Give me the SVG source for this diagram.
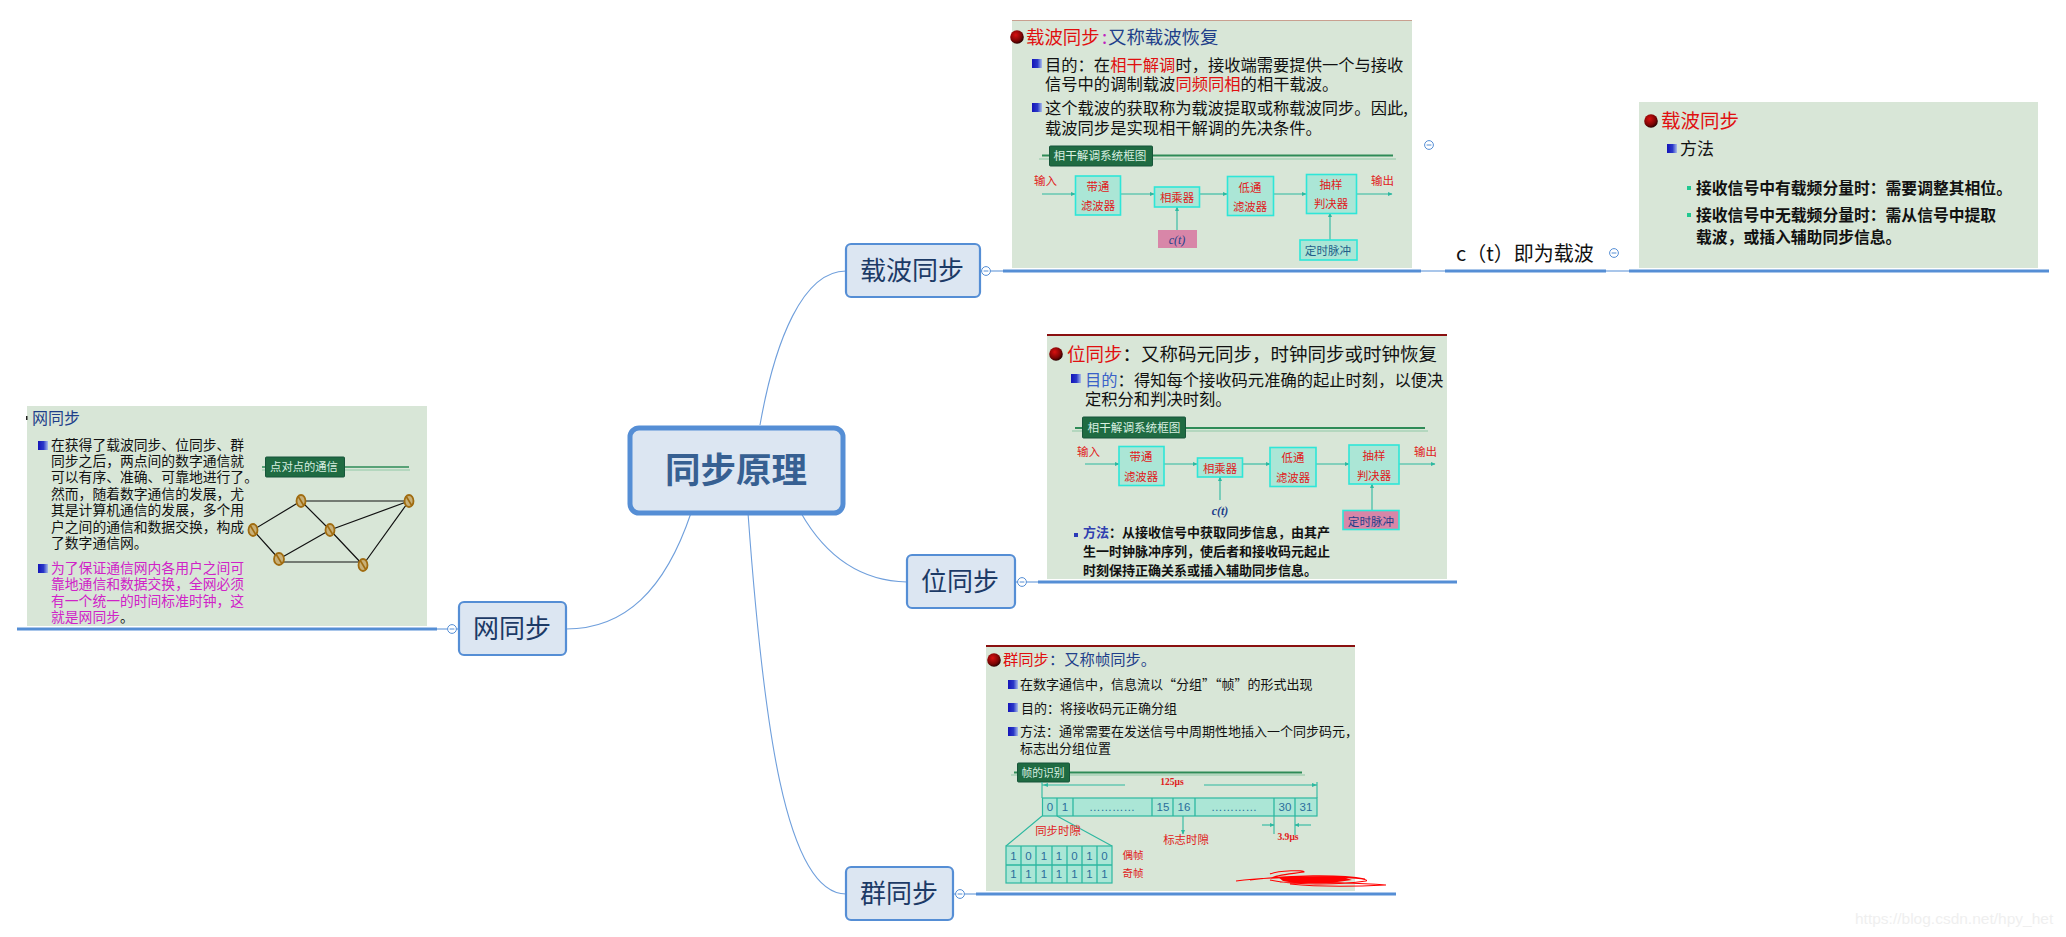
<svg xmlns="http://www.w3.org/2000/svg" width="2066" height="937" viewBox="0 0 2066 937">
<style>
text{font-family:"Noto Sans CJK SC","Noto Sans",sans-serif;fill:#111}
.panel{fill:#d8e6d7}
.topic{fill:#dce6f2;stroke:#558ed5;stroke-width:2.2}
.ttxt{font-size:26px;fill:#1c3a66;text-anchor:middle}
.curve{fill:none;stroke:#6f9fdc;stroke-width:1.1}
.thin{fill:none;stroke:#558ed5;stroke-width:1.2}
.thick{fill:none;stroke:#558ed5;stroke-width:3.2}
.col{fill:#fff;stroke:#558ed5;stroke-width:1}
.title{font-size:18.4px;fill:#1f3f8a}
.red{fill:#e01010}
.body{font-size:16.3px}
.blk{fill:#abe6d6;stroke:#2ee6d8;stroke-width:1.6}
.btx{font-size:11.4px;fill:#e02020;text-anchor:middle}
.io{font-size:11.5px;fill:#e02020}
.sig{fill:none;stroke:#2db8a0;stroke-width:1.1}
.sigm{fill:none;stroke:#2db8a0;stroke-width:1.1;marker-end:url(#ar)}
.tag{fill:#1f6b42;stroke:#17553a;stroke-width:1}
.tagt{font-size:11.6px;fill:#d8efe0;text-anchor:middle}
.hl1{stroke:#2e8b57;stroke-width:2.2;fill:none}
.hl2{stroke:#8fc8a6;stroke-width:1;fill:none}
.cell{fill:#abe6d6;stroke:#2db8a0;stroke-width:1.2}
.ctx{font-size:11.5px;fill:#2a6e9c;text-anchor:middle;font-family:"Liberation Sans",sans-serif}
.ser{font-family:"Liberation Serif",serif;font-weight:700;fill:#e02020;font-size:9.6px;text-anchor:middle}
.s13{font-size:13px}
.m{font-size:13.8px}
.mg{fill:#d022c8}
.b{font-weight:700}
.edge{stroke:#111;stroke-width:1.2;fill:none}
.nd{fill:#c8b078;stroke:#a06c10;stroke-width:1.8}
.sl{stroke:#a06c10;stroke-width:1.6}
</style>
<defs>
<radialGradient id="ballg" cx="0.4" cy="0.35" r="0.7"><stop offset="0" stop-color="#d81010"/><stop offset="0.65" stop-color="#7a0404"/><stop offset="1" stop-color="#180000"/></radialGradient>
<linearGradient id="sqg" x1="0" x2="1"><stop offset="0" stop-color="#1414b8"/><stop offset="0.55" stop-color="#2a38c8"/><stop offset="1" stop-color="#a8bcec"/></linearGradient>
<circle id="ball" r="6.8" fill="url(#ballg)"/>
<rect id="sq" width="10" height="9" fill="url(#sqg)"/>
<marker id="ar" markerWidth="6" markerHeight="6" refX="4" refY="2.5" orient="auto" markerUnits="userSpaceOnUse"><path d="M0 0.5L4.5 2.5L0 4.5Z" fill="#2db8a0"/></marker>
<g id="cc"><circle class="col" r="4.4"/><path d="M-2.4 0H2.4" stroke="#558ed5" stroke-width="1"/></g>
</defs>

<g id="connectors">
<path class="curve" d="M760 425C775 340 803 271 846 271"/>
<path class="curve" d="M801 513C825 555 860 581 907 582"/>
<path class="curve" d="M748 513C763 720 785 894 846 894"/>
<path class="curve" d="M691 513C665 590 625 629 566 629"/>
<path class="thin" d="M980 271H1003M1421 271H1445M1606 271H1629M1015 582H1038M954 894H976M437 629H459"/>
<path class="thick" d="M1003 271H1421M1445 271H1606M1629 271H2049M1038 582H1457M976 894H1396M17 629H437"/>
<use href="#cc" x="986" y="271"/>
<use href="#cc" x="1429" y="145"/>
<use href="#cc" x="1614" y="253"/>
<use href="#cc" x="1022" y="582"/>
<use href="#cc" x="960" y="894"/>
<use href="#cc" x="452" y="629"/>
</g>

<g id="root"><rect x="630" y="428" width="213" height="85" rx="9" fill="#dce6f2" stroke="#558ed5" stroke-width="5"/><text x="736" y="483" font-size="35.5" font-weight="700" text-anchor="middle" style="fill:#376092">同步原理</text></g>
<g id="n-carrier"><rect class="topic" x="846" y="244" width="134" height="53" rx="5"/><text class="ttxt" x="912" y="280">载波同步</text></g>
<g id="n-bit"><rect class="topic" x="907" y="555" width="108" height="53" rx="5"/><text class="ttxt" x="960" y="591">位同步</text></g>
<g id="n-frame"><rect class="topic" x="846" y="867" width="107" height="53" rx="5"/><text class="ttxt" x="899" y="903">群同步</text></g>
<g id="n-net"><rect class="topic" x="459" y="602" width="107" height="53" rx="5"/><text class="ttxt" x="512" y="638">网同步</text></g>

<g id="n-ct"><text x="1456" y="261" font-size="20">c（t）即为载波</text></g>

<g id="p-carrier">
<rect class="panel" x="1012" y="20" width="400" height="248"/>
<path d="M1012 20.5H1412" stroke="#c9a090" stroke-width="1"/>
<use href="#ball" x="1017" y="37"/>
<text class="title red" x="1026" y="44">载波同步</text><text class="title" x="1102" y="44" style="fill:#c020c0">:</text><text class="title" x="1108" y="44">又称载波恢复</text>
<use href="#sq" x="1032" y="59"/>
<text class="body" x="1045" y="71">目的：在</text><text class="body red" x="1110.200" y="71">相干解调</text><text class="body" x="1175.400" y="71">时，接收端需要提供一个与接收</text>
<text class="body" x="1045" y="90">信号中的调制载波</text><text class="body red" x="1175.400" y="90">同频同相</text><text class="body" x="1240.600" y="90">的相干载波。</text>
<use href="#sq" x="1032" y="103"/>
<text class="body" x="1045" y="114">这个载波的获取称为载波提取或称载波同步。因此,</text>
<text class="body" x="1045" y="134">载波同步是实现相干解调的先决条件。</text>
<path class="hl1" d="M1042 155.500H1393"/><path class="hl2" d="M1039 159H1396"/>
<rect class="tag" x="1049.500" y="146" width="103" height="20" rx="1"/>
<text class="tagt" x="1100" y="160">相干解调系统框图</text>
<text class="io" x="1034" y="185">输入</text><text class="io" x="1371" y="185">输出</text>
<path class="sigm" d="M1042 194H1075"/><path class="sigm" d="M1121 194H1154"/><path class="sigm" d="M1200 194H1227"/><path class="sigm" d="M1273 194H1306"/><path class="sigm" d="M1356 194H1392"/><path class="sigm" d="M1177 230V207"/><path class="sigm" d="M1330 240V213"/>
<rect class="blk" x="1075.500" y="176" width="45" height="39"/><text class="btx" x="1098" y="191">带通</text><text class="btx" x="1098" y="210">滤波器</text>
<rect class="blk" x="1154.500" y="187" width="45" height="20"/><text class="btx" x="1177" y="202">相乘器</text>
<rect class="blk" x="1227.500" y="176.500" width="46" height="39"/><text class="btx" x="1250" y="192">低通</text><text class="btx" x="1250" y="211">滤波器</text>
<rect class="blk" x="1306.500" y="174.500" width="50" height="39"/><text class="btx" x="1331" y="189">抽样</text><text class="btx" x="1331" y="208">判决器</text>
<rect x="1158" y="230" width="39" height="18" fill="#d886a8"/><text x="1177" y="244" font-size="12" font-style="italic" text-anchor="middle" style="font-family:'Liberation Serif',serif;fill:#1f3f8a">c(t)</text>
<rect class="blk" x="1300" y="240" width="57" height="20"/><text x="1328" y="255" font-size="11.6" text-anchor="middle" style="fill:#1f5f8a">定时脉冲</text>
</g>

<g id="p-carrier2">
<rect class="panel" x="1639" y="102" width="399" height="166"/>
<use href="#ball" x="1651" y="121"/>
<text class="red" x="1661" y="128" font-size="19.500">载波同步</text>
<use href="#sq" x="1667" y="144"/>
<text x="1680" y="155" font-size="17">方法</text>
<rect x="1687" y="186" width="4" height="4" fill="#20c890"/><rect x="1687" y="213" width="4" height="4" fill="#20c890"/>
<g class="b" font-size="15.800">
<text x="1696" y="194">接收信号中有载频分量时：需要调整其相位。</text>
<text x="1696" y="221">接收信号中无载频分量时：需从信号中提取</text>
<text x="1696" y="243">载波，或插入辅助同步信息。</text>
</g>
</g>

<g id="p-bit">
<rect class="panel" x="1047" y="334" width="400" height="245"/>
<path d="M1047 335H1447" stroke="#8a1010" stroke-width="2"/>
<use href="#ball" x="1056" y="354"/>
<text class="red" x="1067" y="361" font-size="18.500">位同步</text><text x="1122.500" y="361" font-size="18.500">：又称码元同步，时钟同步或时钟恢复</text>
<use href="#sq" x="1071" y="374"/>
<text class="body" x="1085" y="386" style="fill:#3a62c8">目的</text><text class="body" x="1117.600" y="386">：得知每个接收码元准确的起止时刻，以便决</text>
<text class="body" x="1085" y="405">定积分和判决时刻。</text>
<path class="hl1" d="M1075 428H1425"/><path class="hl2" d="M1072 431H1428"/>
<rect class="tag" x="1082.500" y="417" width="103" height="21" rx="1"/>
<text class="tagt" x="1134" y="432">相干解调系统框图</text>
<text class="io" x="1077" y="456">输入</text><text class="io" x="1414" y="456">输出</text>
<path class="sigm" d="M1085 464H1119"/><path class="sigm" d="M1164 464H1197"/><path class="sigm" d="M1242 464H1270"/><path class="sigm" d="M1316 464H1349"/><path class="sigm" d="M1399 464H1435"/><path class="sigm" d="M1220 500V477"/><path class="sigm" d="M1372 510V484"/>
<rect class="blk" x="1119" y="446.500" width="45" height="39"/><text class="btx" x="1141" y="461">带通</text><text class="btx" x="1141" y="481">滤波器</text>
<rect class="blk" x="1197.500" y="458" width="45" height="19"/><text class="btx" x="1220" y="473">相乘器</text>
<rect class="blk" x="1270" y="447.500" width="46" height="39"/><text class="btx" x="1293" y="462">低通</text><text class="btx" x="1293" y="482">滤波器</text>
<rect class="blk" x="1349" y="445" width="50" height="39"/><text class="btx" x="1374" y="460">抽样</text><text class="btx" x="1374" y="480">判决器</text>
<text x="1220" y="515" font-size="12" font-style="italic" font-weight="700" text-anchor="middle" style="font-family:'Liberation Serif',serif;fill:#1f3f8a">c(t)</text>
<rect x="1343" y="510.500" width="56" height="19" fill="#d886a8" stroke="#2ee6d8" stroke-width="1.6"/><text x="1371" y="526" font-size="11.600" text-anchor="middle" style="fill:#1f3f8a">定时脉冲</text>
<rect x="1074" y="533" width="4" height="4" fill="#2a3ab8"/>
<g class="b" font-size="13">
<text x="1083" y="537" style="fill:#3040b0">方法</text><text x="1109" y="537">：从接收信号中获取同步信息，由其产</text>
<text x="1083" y="556">生一时钟脉冲序列，使后者和接收码元起止</text>
<text x="1083" y="575">时刻保持正确关系或插入辅助同步信息。</text>
</g>
</g>

<g id="p-frame">
<rect class="panel" x="986" y="645" width="369" height="246"/>
<path d="M986 646H1355" stroke="#8a1010" stroke-width="2"/>
<use href="#ball" x="994" y="660"/>
<text class="red" x="1003" y="665" font-size="15.300">群同步</text><text x="1049" y="665" font-size="15.300" style="fill:#1f3f8a">：又称帧同步。</text>
<use href="#sq" x="1008" y="680"/>
<text class="s13" x="1020" y="689">在数字通信中，信息流以“分组”“帧”的形式出现</text>
<use href="#sq" x="1008" y="703"/>
<text class="s13" x="1021" y="713">目的：将接收码元正确分组</text>
<use href="#sq" x="1008" y="727"/>
<text class="s13" x="1020" y="736">方法：通常需要在发送信号中周期性地插入一个同步码元，</text>
<text class="s13" x="1020" y="753">标志出分组位置</text>
<path class="hl1" d="M1014 772.500H1302"/><path class="hl2" d="M1011 775H1305"/>
<rect class="tag" x="1017.500" y="763" width="52" height="19" rx="1"/>
<text class="tagt" x="1043" y="777" style="font-size:10.800px">帧的识别</text>
<path class="sig" d="M1042 782V798M1317 782V798M1042 785H1125M1204 785H1317"/>
<path d="M1043 785l5 -2v4zM1317 785l-5 -2v4z" fill="#2db8a0"/>
<text class="ser" x="1172" y="785">125μs</text>
<rect class="cell" x="1042.500" y="798" width="274.500" height="18"/>
<path class="sig" style="stroke-width:1.300" d="M1057 798V816M1073 798V816M1152 798V816M1173 798V816M1195 798V816M1274 798V816M1295 798V816"/>
<text class="ctx" x="1050" y="811">0</text><text class="ctx" x="1065" y="811">1</text><text class="ctx" x="1112" y="811">…………</text><text class="ctx" x="1163" y="811">15</text><text class="ctx" x="1184" y="811">16</text><text class="ctx" x="1234" y="811">…………</text><text class="ctx" x="1285" y="811">30</text><text class="ctx" x="1306" y="811">31</text>
<path class="sig" d="M1042 816L1006 846M1057 816L1112 846"/>
<path class="sigm" d="M1183 816V834"/>
<path class="sig" d="M1274 816V834M1295 816V835"/>
<path class="sigm" d="M1262 825H1274"/><path class="sigm" d="M1311 825H1295"/>
<text class="btx" x="1058" y="835">同步时隙</text>
<text class="btx" x="1186" y="844">标志时隙</text>
<text class="ser" x="1288" y="840">3.9μs</text>
<rect class="cell" x="1006" y="846" width="106" height="37"/>
<path class="sig" style="stroke-width:1.300" d="M1006 865H1112M1021 846V883M1036 846V883M1052 846V883M1067 846V883M1082 846V883M1097 846V883"/>
<text class="ctx" x="1013.500" y="860">1</text><text class="ctx" x="1028.500" y="860">0</text><text class="ctx" x="1044" y="860">1</text><text class="ctx" x="1059" y="860">1</text><text class="ctx" x="1074.500" y="860">0</text><text class="ctx" x="1089.500" y="860">1</text><text class="ctx" x="1104.500" y="860">0</text>
<text class="ctx" x="1013.500" y="878">1</text><text class="ctx" x="1028.500" y="878">1</text><text class="ctx" x="1044" y="878">1</text><text class="ctx" x="1059" y="878">1</text><text class="ctx" x="1074.500" y="878">1</text><text class="ctx" x="1089.500" y="878">1</text><text class="ctx" x="1104.500" y="878">1</text>
<text class="btx" x="1133" y="859" style="font-size:10.500px">偶帧</text>
<text class="btx" x="1133" y="877" style="font-size:10.500px">奇帧</text>
<path fill="none" stroke="#f00" stroke-width="1.100" d="M1236 881C1260 878 1290 877 1320 877C1350 877 1370 879 1366 881C1340 885 1290 885 1270 880M1270 874C1280 870 1305 870 1304 872C1290 874 1275 875 1272 878M1290 884C1320 887 1365 886 1386 885C1360 883 1320 882 1280 882M1250 880C1290 875 1340 874 1365 879"/>
<path fill="#f00" d="M1278 877L1340 876L1352 880L1330 883L1295 883L1283 881Z"/>
</g>

<g id="p-net">
<rect class="panel" x="27" y="406" width="400" height="220"/>
<rect x="26" y="416" width="1.500" height="4" fill="#222"/>
<text x="32" y="424" font-size="16" style="fill:#1f3f8a">网同步</text>
<use href="#sq" x="38" y="441"/>
<g class="m">
<text x="51" y="450">在获得了载波同步、位同步、群</text>
<text x="51" y="466">同步之后，两点间的数字通信就</text>
<text x="51" y="482">可以有序、准确、可靠地进行了。</text>
<text x="51" y="499">然而，随着数字通信的发展，尤</text>
<text x="51" y="515">其是计算机通信的发展，多个用</text>
<text x="51" y="532">户之间的通信和数据交换，构成</text>
<text x="51" y="548">了数字通信网。</text>
</g>
<use href="#sq" x="38" y="564"/>
<g class="m">
<text class="mg" x="51" y="573">为了保证通信网内各用户之间可</text>
<text class="mg" x="51" y="589">靠地通信和数据交换，全网必须</text>
<text class="mg" x="51" y="606">有一个统一的时间标准时钟，这</text>
<text class="mg" x="51" y="622">就是网同步</text><text x="120" y="622">。</text>
</g>
<path class="hl1" style="stroke-width:1.600" d="M262 467H409"/><path class="hl2" d="M262 470H410"/>
<rect class="tag" x="265.500" y="457" width="79" height="20" rx="1"/>
<text class="tagt" x="304" y="471" style="font-size:11.300px">点对点的通信</text>
<path class="edge" d="M301 501H409M301 501L253 530M301 501L330 530M253 530L279 559M330 530L279 559M279 562H363M330 530L409 501M330 530L363 565M409 501L363 565"/>
<g id="net-nodes">
<ellipse class="nd" cx="301" cy="501" rx="4.500" ry="6"/><path class="sl" d="M298 496L304 506"/>
<ellipse class="nd" cx="409" cy="501" rx="4.500" ry="6"/><path class="sl" d="M406 496L412 506"/>
<ellipse class="nd" cx="253" cy="530" rx="4.500" ry="6"/><path class="sl" d="M250 525L256 535"/>
<ellipse class="nd" cx="330" cy="530" rx="4.500" ry="6"/><path class="sl" d="M327 525L333 535"/>
<ellipse class="nd" cx="279" cy="559" rx="5" ry="6"/><path class="sl" d="M276 554L282 564"/>
<ellipse class="nd" cx="363" cy="565" rx="4.500" ry="6"/><path class="sl" d="M360 560L366 570"/>
</g>
</g>

<text id="watermark" x="1855" y="924" font-size="15.500" style="font-family:'Liberation Sans',sans-serif;fill:#efefef">https://blog.csdn.net/hpy_het</text>
</svg>
